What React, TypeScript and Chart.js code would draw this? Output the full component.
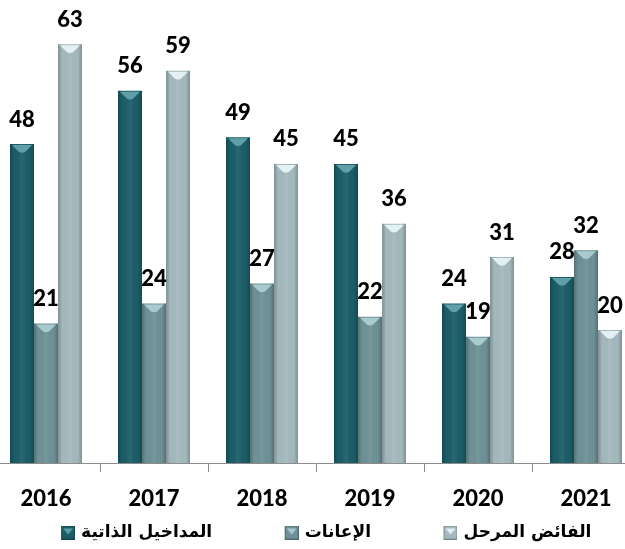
import React, { useEffect, useRef } from 'react';
import { Chart, registerables } from 'chart.js';

Chart.register(...registerables);

const years = ['2016', '2017', '2018', '2019', '2020', '2021'];
const seriesNames = ['المداخيل الذاتية', 'الإعانات', 'الفائض المرحل'];
const ownRevenue = [48, 56, 49, 45, 24, 28];
const subsidies = [21, 24, 27, 22, 19, 32];
const carriedSurplus = [63, 59, 45, 36, 31, 20];

const barColors = ['#1b5d67', '#6d9196', '#a3b9bd'];
const capColors = ['#5e9fa8', '#a9cbd0', '#e4f1f3'];

const ICON_SLOT = 32;
const ICON_W = ICON_SLOT + 5;
const SIDE = 10;

function makeLegendIcon(fill: string, cap: string) {
  const c = document.createElement('canvas');
  c.width = ICON_W;
  c.height = 14;
  const g = c.getContext('2d')!;
  const bx = ICON_W - 14;
  g.fillStyle = fill;
  g.fillRect(bx, 0, 14, 14);
  g.strokeStyle = 'rgba(0,0,0,0.25)';
  g.lineWidth = 1;
  g.strokeRect(bx + 0.5, 0.5, 13, 13);
  g.fillStyle = cap;
  g.beginPath();
  g.moveTo(bx + 2, 3);
  g.lineTo(bx + 12, 3);
  g.lineTo(bx + 7, 9);
  g.closePath();
  g.fill();
  return c;
}

const barDecor = {
  id: 'barDecor',
  afterDatasetsDraw(chart: any) {
    const ctx = chart.ctx as CanvasRenderingContext2D;
    chart.data.datasets.forEach((ds: any, di: number) => {
      const meta = chart.getDatasetMeta(di);
      meta.data.forEach((el: any, i: number) => {
        const { x, y, base, width } = el.getProps(['x', 'y', 'base', 'width'], true);
        const l = x - width / 2;
        const r = x + width / 2;
        ctx.save();
        const grad = ctx.createLinearGradient(l, 0, r, 0);
        grad.addColorStop(0, 'rgba(0,0,0,0.22)');
        grad.addColorStop(0.18, 'rgba(0,0,0,0)');
        grad.addColorStop(0.5, 'rgba(255,255,255,0.07)');
        grad.addColorStop(0.82, 'rgba(0,0,0,0)');
        grad.addColorStop(1, 'rgba(0,0,0,0.22)');
        ctx.fillStyle = grad;
        ctx.fillRect(l, y, width, base - y);
        ctx.fillStyle = capColors[di];
        ctx.beginPath();
        ctx.moveTo(l + 2, y + 1);
        ctx.lineTo(r - 2, y + 1);
        ctx.lineTo(x + 3, y + 8);
        ctx.quadraticCurveTo(x, y + 9.5, x - 3, y + 8);
        ctx.closePath();
        ctx.fill();
        ctx.fillStyle = '#000';
        ctx.font = '900 22px Lato, "DejaVu Sans", sans-serif';
        ctx.textAlign = 'center';
        ctx.textBaseline = 'middle';
        ctx.fillText(String(ds.data[i]), x, y - 24.5);
        ctx.restore();
      });
    });
  },
};

const hiddenSideAxis = (position: 'left' | 'right') => ({
  type: 'linear',
  position,
  display: true,
  ticks: { display: false },
  grid: { display: false },
  border: { display: false },
  afterFit: (scale: any) => {
    scale.width = SIDE;
  },
});

export default function App() {
  const ref = useRef<HTMLCanvasElement>(null);

  useEffect(() => {
    const canvas = ref.current!;
    const icons = barColors.map((c, i) => makeLegendIcon(c, capColors[i]));
    const chart = new Chart(canvas, {
      type: 'bar',
      data: {
        labels: years,
        datasets: [
          { label: seriesNames[0], data: ownRevenue, backgroundColor: barColors[0] },
          { label: seriesNames[1], data: subsidies, backgroundColor: barColors[1] },
          { label: seriesNames[2], data: carriedSurplus, backgroundColor: barColors[2] },
        ],
      },
      options: {
        responsive: false,
        animation: false,
        devicePixelRatio: 1,
        layout: { padding: { top: 11, left: 0, right: 0, bottom: 0 } },
        datasets: {
          bar: { categoryPercentage: 0.667, barPercentage: 1.0, borderWidth: 0 },
        },
        scales: {
          x: {
            grid: {
              display: true,
              drawOnChartArea: false,
              drawTicks: true,
              tickLength: 9,
              color: '#8c8c8c',
              offset: true,
            },
            border: { display: true, color: '#8c8c8c', width: 1 },
            ticks: {
              color: '#000',
              mirror: true,
              padding: -49,
              autoSkip: false,
              maxRotation: 0,
              font: { family: 'Lato, "DejaVu Sans", sans-serif', weight: '900', size: 22 },
            },
            afterFit: (scale: any) => {
              scale.height = 9;
            },
          },
          y: { ...hiddenSideAxis('left'), min: 0, max: 68 },
          y2: { ...hiddenSideAxis('right'), min: 0, max: 68 },
        },
        plugins: {
          tooltip: { enabled: false },
          legend: {
            position: 'bottom',
            labels: {
              usePointStyle: true,
              pointStyleWidth: ICON_SLOT,
              padding: 52,
              color: '#000',
              font: { family: '"DejaVu Sans", sans-serif', weight: 'bold', size: 17 },
              generateLabels: (ch: any) => {
                const items = Chart.defaults.plugins.legend.labels.generateLabels(ch);
                return items.map((it: any, i: number) => ({ ...it, pointStyle: icons[i] }));
              },
            },
          },
        },
      },
      plugins: [barDecor],
    } as any);
    return () => chart.destroy();
  }, []);

  return (
    <div style={{ position: 'fixed', left: 0, top: 0, width: 625, height: 549, overflow: 'hidden', background: '#fff' }}>
      <canvas
        ref={ref}
        width={648 + 2 * SIDE}
        height={551}
        style={{ position: 'absolute', left: -8 - SIDE, top: 0, width: 648 + 2 * SIDE, height: 551 }}
      />
    </div>
  );
}
